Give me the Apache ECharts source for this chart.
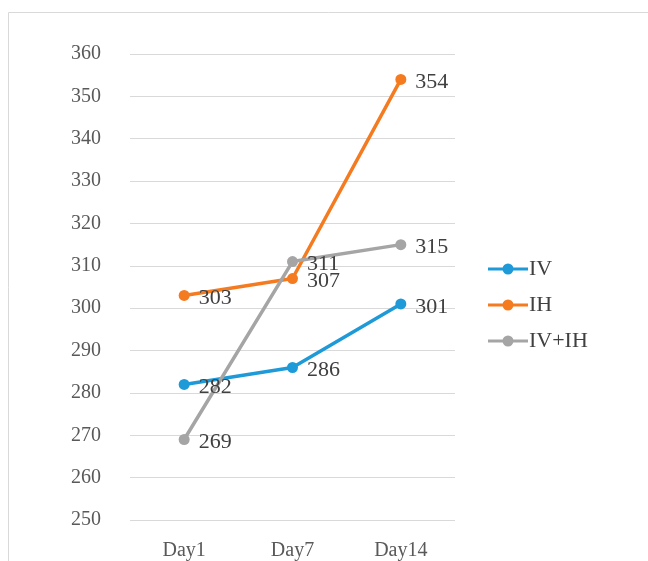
<!DOCTYPE html>
<html>
<head>
<meta charset="utf-8">
<script src="https://cdn.jsdelivr.net/npm/echarts@6/dist/echarts.min.js"></script>
<style>
  html, body { margin: 0; padding: 0; background: #fff; }
  #chart { width: 648px; height: 561px; }
</style>
</head>
<body>
<div id="chart"></div>
<script>
// Categories and series values
const days = ['Day1', 'Day7', 'Day14'];
const ivValues = [282, 286, 301];
const ihValues = [303, 307, 354];
const ivIhValues = [269, 311, 315];
const seriesNames = ['IV', 'IH', 'IV+IH'];
const seriesColors = ['#1f9ad8', '#f57b20', '#a5a5a5'];

const chart = echarts.init(document.getElementById('chart'));
const serif = '"Liberation Serif", "Times New Roman", serif';

// Legend marker: short line with a solid dot in the middle
const legendIcon = 'path://M0,4 L40,4 L40,7 L0,7 Z M14.5,5.5 a5.5,5.5 0 1,1 11,0 a5.5,5.5 0 1,1 -11,0 Z';

function lineSeries(name, data, color) {
  return {
    name: name,
    type: 'line',
    data: data,
    symbol: 'circle',
    symbolSize: 11,
    lineStyle: { width: 3.5, color: color },
    itemStyle: { color: color },
    label: {
      show: true,
      position: 'right',
      offset: [4, 3],
      fontFamily: serif,
      fontSize: 22,
      color: '#404040'
    }
  };
}

chart.setOption({
  animation: false,
  graphic: [{
    type: 'rect',
    shape: { x: 8.5, y: 12.5, width: 700, height: 600 },
    style: { fill: 'none', stroke: '#d9d9d9', lineWidth: 1 },
    z: -1
  }],
  grid: { left: 130, right: 193, top: 54, bottom: 36, containLabel: false },
  legend: {
    orient: 'vertical',
    left: 483,
    top: 253,
    itemWidth: 40,
    itemHeight: 11,
    itemGap: 14,
    data: seriesNames.map(n => ({ name: n, icon: legendIcon })),
    textStyle: { fontFamily: serif, fontSize: 22, color: '#404040', padding: [0, 0, 0, -4] }
  },
  xAxis: {
    type: 'category',
    data: days,
    boundaryGap: true,
    axisLine: { show: false },
    axisTick: { show: false },
    axisLabel: { fontFamily: serif, fontSize: 20, color: '#595959', margin: 21 }
  },
  yAxis: {
    type: 'value',
    min: 250,
    max: 360,
    interval: 10,
    axisLine: { show: false },
    axisTick: { show: false },
    axisLabel: { fontFamily: serif, fontSize: 20, color: '#595959', margin: 29 },
    splitLine: { lineStyle: { color: '#d9d9d9', width: 1 } }
  },
  series: [
    lineSeries(seriesNames[0], ivValues, seriesColors[0]),
    lineSeries(seriesNames[1], ihValues, seriesColors[1]),
    lineSeries(seriesNames[2], ivIhValues, seriesColors[2])
  ]
});
</script>
</body>
</html>
